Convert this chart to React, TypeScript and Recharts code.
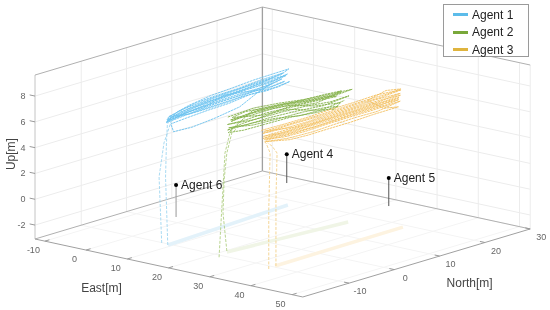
import { Scatter, ScatterChart, XAxis, YAxis } from "recharts";

type P3 = number[];

const eastTicks = [-10, 0, 10, 20, 30, 40, 50];
const northTicks = [-10, 0, 10, 20, 30];
const upTicks = [-2, 0, 2, 4, 6, 8];

const E_MIN = -12.4;
const E_MAX = 52.6;
const N_MIN = -20.2;
const N_MAX = 30;
const U_MIN = -3.08;
const U_MAX = 9.63;

const legendItems = [
  { name: "Agent 1", color: "#5cbcea" },
  { name: "Agent 2", color: "#79a83a" },
  { name: "Agent 3", color: "#dfb43e" },
];

// east, north, up
const agent1Climbs: P3[][] = [
  [[7.8, -10.6, -3], [7.6, -11, 2.15], [7.8, -10.1, 4.7], [8.2, -8.8, 6.34], [8.6, -7.5, 6.5]],
  [[9.6, -10.9, -3], [9.5, -11.3, 2.3], [9.5, -11.1, 4.93], [9.5, -10.9, 6.3], [9, -10, 6.6]],
];
const agent1Flight: P3[] = [
  [8.6, -10, 6.7], [8.2, -5, 7.1], [7.9, 0, 7.3], [7.6, 5, 7.35], [7.5, 10, 7.45], [7.3, 15, 7.45], [7.2, 18, 7.45],
  [7.4, 16, 7.2], [7.6, 10.5, 7.2], [7.8, 5.2, 7.1], [8, 0.3, 7.05], [8.3, -4.8, 6.9], [8.7, -10.3, 6.6],
  [8.4, -6, 6.75], [8.1, -0.5, 6.95], [7.9, 4.6, 7], [7.7, 9.7, 7.05], [7.5, 14.6, 7], [7.3, 17.6, 7.1],
  [7.5, 13.5, 6.85], [7.7, 8.5, 6.9], [7.9, 3.8, 6.85], [8.2, -1, 6.8], [8.4, -5.6, 6.6], [8.8, -10.5, 6.45],
  [8.5, -6.5, 6.6], [8.2, -1.6, 6.7], [8, 3.2, 6.75], [7.8, 8, 6.75], [7.6, 12.6, 6.7], [7.3, 16.4, 6.85],
  [7.5, 11.6, 6.55], [7.8, 6.8, 6.6], [8, 2, 6.6], [8.3, -2.6, 6.55], [8.6, -7, 6.45], [8.9, -10.6, 6.4],
  [8.6, -7.8, 6.95], [8.3, -3.4, 7.15], [8, 1.2, 7.2], [7.8, 6.4, 7.2], [7.6, 11.4, 7.3], [7.4, 16.6, 7.3],
  [7.6, 12, 7.1], [7.8, 7.2, 6.95], [8, 2.6, 6.9], [8.3, -2.2, 6.95], [8.6, -7.2, 6.85], [8.8, -10.2, 6.55],
  [8.5, -5.4, 6.5], [8.2, 0.6, 6.5], [8, 5.8, 6.5], [7.8, 10.8, 6.45], [7.5, 15.4, 6.35], [7.2, 18.2, 6.45],
  [7.4, 13, 6.3], [7.7, 9, 6.45], [8, 4.2, 6.3], [8.3, -0.8, 6.3], [8.6, -5.8, 6.25], [8.9, -9.6, 6.2],
  [8.7, -8.8, 5.5], [8.4, -4.5, 5.37], [8.1, 1, 5.5], [7.9, 6.5, 5.76], [7.6, 11, 6.45], [7.4, 14.2, 6.75],
  [7.6, 10, 6.65], [7.9, 5.4, 6.65], [8.1, 0.8, 6.65], [8.4, -3.8, 6.7], [8.7, -8.4, 6.55],
  [8.4, -4.4, 6.8], [8.1, 0, 6.9], [7.8, 5, 6.95], [7.6, 10.2, 6.95], [7.4, 15.2, 6.9], [7.2, 17.4, 7],
  [7.4, 14, 7.1], [7.7, 9.2, 7.15], [7.9, 3.9, 7.15], [8.2, -1.2, 7.1], [8.5, -6.2, 7], [8.8, -9.9, 6.8],
  [8.4, -5.2, 6.45], [8.1, -0.2, 6.4], [7.8, 4.8, 6.4], [7.6, 9.8, 6.6], [7.5, 13.8, 6.55], [7.3, 17, 6.6],
  [7.5, 12.8, 6.45], [7.8, 7.6, 6.8], [8, 3, 7.05], [8.3, -1.8, 6.6], [8.6, -6.8, 6.7], [8.9, -10.4, 6.55],
];

const agent2Climbs: P3[][] = [
  [[22.6, -11.4, -3], [22.6, -10.75, 1], [22.6, -10.1, 4.94], [22.6, -9, 6.38], [22.4, -8.2, 6.6]],
  [[20.75, -8, -3], [20.75, -8.85, 0.04], [20.75, -8.6, 2.57], [20.75, -8, 4.6], [20.75, -6.9, 6.04], [21, -6, 6.3]],
];
const agent2Flight: P3[] = [
  [21, -8, 7.4], [21.6, -3, 7.6], [22.2, 2, 7.5], [22.8, 7, 7.3], [23.3, 12, 7.2], [23.9, 16.8, 7.15],
  [23.6, 13, 7], [23.1, 8.4, 7.1], [22.4, 3.2, 7.25], [21.8, -2, 7.35], [21.2, -7.6, 7.15],
  [21.6, -3.4, 7.1], [22.2, 1.4, 7.2], [22.8, 6.6, 7.05], [23.3, 11.4, 7], [23.7, 14.6, 7.15],
  [23.2, 9.6, 6.8], [22.6, 4.8, 6.95], [22, -0.6, 7], [21.5, -4.8, 6.85], [21.1, -8.2, 6.85],
  [21.7, -2.6, 6.7], [22.3, 2.8, 6.75], [22.9, 7.6, 6.75], [23.4, 12.4, 6.6], [23.8, 16.2, 6.7],
  [23.3, 11, 6.45], [22.7, 5.6, 6.55], [22, 0.4, 6.55], [21.5, -4.2, 6.45], [21, -7.8, 6.55],
  [21.6, -3, 6.3], [22.2, 1.8, 6.3], [22.8, 6.8, 6.35], [23.3, 11.6, 6.25], [23.6, 14, 6.1],
  [23.2, 9.8, 6.05], [22.6, 4.4, 6.2], [22, -0.8, 6.15], [21.5, -5, 6.1], [21.1, -8, 6.2],
  [21.7, -3.2, 7.45], [22.3, 2.2, 7.4], [22.9, 7.8, 7.2], [23.4, 12.8, 7.1], [23.7, 14.6, 7.25],
  [23.3, 10.6, 7.3], [22.7, 5.2, 7.3], [22.1, 0, 7.4], [21.5, -4.6, 7.5], [21.2, -7.2, 7.3],
  [21.9, -1.4, 6.9], [22.5, 4, 6.85], [23, 8.8, 6.3], [23.5, 13.2, 5.95], [23.7, 14.4, 6.35],
  [23.2, 9.2, 6.6], [22.6, 4.2, 7.15], [22, -0.2, 7.22], [21.5, -4, 7.25], [21.1, -7.4, 7],
  [21.7, -2.2, 7.3], [22.3, 3, 7.32], [22.9, 8, 7.12], [23.3, 11.8, 7.08], [23.6, 13.6, 6.9],
  [23.2, 9, 6.98], [22.6, 3.6, 7.05], [22, -1.2, 6.78], [21.5, -5.2, 6.65], [21, -8.1, 6.4],
  [21.7, -3.6, 6.5], [22.3, 1.2, 6.42], [22.9, 6.2, 6.15], [23.4, 10.8, 6.18], [23.8, 15.2, 6.45],
];

const agent3Climbs: P3[][] = [
  [[35.1, -11.8, -3], [35.1, -11.8, 1.57], [35.1, -11.5, 5.96], [35.1, -12.4, 6.83], [34.9, -12.8, 7]],
  [[34.7, -9.85, -3], [34.7, -9.85, 2.1], [34.7, -9.6, 5.73], [34.7, -10.7, 6.38], [34.5, -11.5, 6.7]],
];
const agent3Flight: P3[] = [
  [34.4, -12.8, 7.8], [34.2, -7, 7.72], [34, -2, 7.68], [34, 3, 7.75], [33.9, 8, 7.74], [33.9, 13, 7.8], [33.8, 18.6, 7.6],
  [33.9, 14, 7.5], [34, 9, 7.55], [34, 4, 7.5], [34.1, -1, 7.5], [34.3, -6, 7.55], [34.5, -12.6, 7.55],
  [34.3, -7.5, 7.4], [34.1, -2.4, 7.35], [34, 2.6, 7.4], [33.9, 7.6, 7.4], [33.9, 12.6, 7.45], [33.8, 18.4, 7.35],
  [33.9, 13.4, 7.2], [34, 8.4, 7.25], [34, 3.4, 7.2], [34.1, -1.6, 7.15], [34.3, -6.6, 7.25], [34.5, -12.4, 7.3],
  [34.3, -8, 7.1], [34.1, -3, 7], [34, 2, 7.05], [33.9, 7, 7.05], [33.9, 12, 7.05], [33.8, 18.2, 7.05],
  [33.9, 13.8, 6.9], [34, 8.8, 6.9], [34, 3.8, 6.85], [34.1, -0.8, 6.8], [34.3, -6.2, 6.9], [34.5, -12.2, 7.05],
  [34.3, -7.8, 6.75], [34.1, -2.8, 6.65], [34, 2.4, 6.7], [33.9, 7.4, 6.7], [33.9, 12.4, 6.7], [33.8, 18.4, 6.75],
  [33.9, 13.2, 6.5], [34, 8.2, 6.55], [34, 3.2, 6.5], [34.1, -1.2, 6.45], [34.3, -6.8, 6.55], [34.5, -12, 6.85],
  [34.3, -6.4, 6.4], [34.1, -2.2, 6.3], [34, 2.2, 6.3], [33.9, 7.2, 6.28], [33.9, 12.2, 6.35], [33.8, 18, 6.35],
  [33.9, 14.6, 6.6], [34, 11, 7.6], [34.1, 15, 7.95], [33.9, 18.4, 7.7],
  [33.9, 15.6, 7.62], [34, 10.6, 7.65], [34, 5.6, 7.62], [34.1, 0.6, 7.6], [34.3, -4.4, 7.62], [34.5, -12.2, 7.68],
  [34.3, -5.6, 7.28], [34.1, -0.6, 7.28], [34, 4.4, 7.3], [33.9, 9.4, 7.32], [33.9, 14.4, 7.3], [33.8, 18.5, 7.2],
  [33.9, 15, 7.12], [34, 10, 7.15], [34, 5, 7.12], [34.1, 0, 7.08], [34.3, -5, 7.15], [34.5, -12.5, 7.15],
  [34.3, -5.8, 6.98], [34.1, -0.4, 6.95], [34, 4.6, 6.97], [33.9, 9.6, 6.98], [33.9, 14.8, 6.95], [33.8, 18.1, 6.9],
  [33.9, 15.2, 6.8], [34, 10.2, 6.82], [34, 5.2, 6.8], [34.1, 0.2, 6.78], [34.3, -4.8, 6.8], [34.5, -12.1, 6.95],
];

const groundTracks: { points: P3[]; color: string }[] = [
  { points: [[9.15, -10.44, U_MIN], [7.2, 17.8, U_MIN]], color: "#e3f2fa" },
  { points: [[20.75, -8, U_MIN], [23.7, 16.1, U_MIN]], color: "#f0f5e6" },
  { points: [[34.1, -9.5, U_MIN], [33.8, 19, U_MIN]], color: "#fdf3e0" },
];

const otherAgents = [
  { name: "Agent 4", east: -3.3, north: 27.1, top: -0.85, stem: "#555555" },
  { name: "Agent 5", east: 21.9, north: 26.7, top: -0.9, stem: "#555555" },
  { name: "Agent 6", east: -2.9, north: 2.3, top: -0.6, stem: "#999999" },
];

const project = ([e, n, u]: P3) => ({
  x: 35 + (e - E_MIN) * 4.12 + (n - N_MIN) * 4.53,
  y: 239 + (e - E_MIN) * 0.892 - (n - N_MIN) * 1.355 - (u - U_MIN) * 12.9,
});

const noDot = () => <g />;

function path(key: string, points: P3[], stroke: string, strokeWidth = 1, dash?: string) {
  return (
    <Scatter
      key={key}
      data={points.map(project)}
      shape={noDot}
      line={{ stroke, strokeWidth, strokeDasharray: dash, fill: "none" }}
      isAnimationActive={false}
    />
  );
}

function label(
  key: string,
  at: P3,
  text: string,
  opts: { dx?: number; dy?: number; size?: number; fill?: string; anchor?: string; dot?: boolean; rotate?: boolean },
) {
  const { dx = 0, dy = 0, size = 9, fill = "#666666", anchor = "middle", dot = false, rotate = false } = opts;
  const draw = (p: any) => {
    const tx = p.cx + dx;
    const ty = p.cy + dy;
    return (
      <g>
        {dot && <circle cx={p.cx} cy={p.cy} r={2} fill="#000" />}
        <text
          x={tx}
          y={ty}
          fontSize={size}
          fill={fill}
          textAnchor={anchor as any}
          dominantBaseline="central"
          fontFamily="'Liberation Sans', Arial, sans-serif"
          transform={rotate ? `rotate(-90 ${tx} ${ty})` : undefined}
        >
          {text}
        </text>
      </g>
    );
  };
  return <Scatter key={key} data={[project(at)]} shape={draw} isAnimationActive={false} />;
}

const GRID = "#ececec";
const FLOOR = "#f4f4f4";
const EDGE = "#b0b0b0";

export default function App() {
  return (
    <div style={{ position: "absolute", left: 0, top: 0, width: 550, height: 310, filter: "blur(0.5px)" }}>
      <ScatterChart width={550} height={310} margin={{ top: 0, right: 0, bottom: 0, left: 0 }}>
        <XAxis type="number" dataKey="x" domain={[0, 550]} hide />
        <YAxis type="number" dataKey="y" domain={[0, 310]} reversed hide />

        {eastTicks.map((e) => path(`ef${e}`, [[e, N_MIN, U_MIN], [e, N_MAX, U_MIN]], FLOOR))}
        {northTicks.map((n) => path(`nf${n}`, [[E_MIN, n, U_MIN], [E_MAX, n, U_MIN]], FLOOR))}
        {eastTicks.map((e) => path(`ew${e}`, [[e, N_MAX, U_MIN], [e, N_MAX, U_MAX]], GRID))}
        {northTicks.map((n) => path(`nw${n}`, [[E_MIN, n, U_MIN], [E_MIN, n, U_MAX]], GRID))}
        {upTicks.map((u) => path(`uw${u}`, [[E_MIN, N_MIN, u], [E_MIN, N_MAX, u], [E_MAX, N_MAX, u]], GRID))}

        {path("left", [[E_MIN, N_MIN, U_MIN], [E_MIN, N_MIN, U_MAX]], "#c4c4c4")}
        {path("back", [[E_MIN, N_MAX, U_MIN], [E_MIN, N_MAX, U_MAX]], "#a0a0a0", 1.3)}
        {path("right", [[E_MAX, N_MAX, U_MIN], [E_MAX, N_MAX, U_MAX]], "#ececec")}
        {path("topEdge", [[E_MIN, N_MIN, U_MAX], [E_MIN, N_MAX, U_MAX], [E_MAX, N_MAX, U_MAX]], EDGE)}
        {path("backFloor", [[E_MIN, N_MIN, U_MIN], [E_MIN, N_MAX, U_MIN], [E_MAX, N_MAX, U_MIN]], EDGE)}
        {path("frontFloor", [[E_MIN, N_MIN, U_MIN], [E_MAX, N_MIN, U_MIN], [E_MAX, N_MAX, U_MIN]], "#a0a0a0")}

        {eastTicks.map((e) => path(`et${e}`, [[e, N_MIN, U_MIN], [e, N_MIN + 1, U_MIN]], "#999999"))}
        {northTicks.map((n) => path(`nt${n}`, [[E_MAX, n, U_MIN], [E_MAX - 1.2, n, U_MIN]], "#999999"))}
        {upTicks.map((u) => path(`ut${u}`, [[E_MIN, N_MIN, u], [E_MIN - 1.3, N_MIN, u]], "#999999"))}

        {groundTracks.map((t, i) => path(`g${i}`, t.points, t.color, 3.5))}

        {otherAgents.map((a) => path(`s${a.name}`, [[a.east, a.north, U_MIN], [a.east, a.north, a.top]], a.stem))}

        {agent1Climbs.map((c, i) => path(`c1${i}`, c, "#9fd6f1", 0.9, "3 1.5"))}
        {agent2Climbs.map((c, i) => path(`c2${i}`, c, "#b1cf85", 0.9, "3 1.5"))}
        {agent3Climbs.map((c, i) => path(`c3${i}`, c, "#f3d08a", 0.9, "3 1.5"))}
        {path("f1", agent1Flight, "#6cc3ef", 0.9, "2.5 0.6")}
        {path("f2", agent2Flight, "#86b24c", 0.9, "2.5 0.6")}
        {path("f3", agent3Flight, "#f3c060", 0.9, "2.5 0.6")}

        {eastTicks.map((e) => label(`el${e}`, [e, N_MIN, U_MIN], String(e), { dx: -11.5, dy: 9 }))}
        {northTicks.map((n) => label(`nl${n}`, [E_MAX, n, U_MIN], String(n), { dx: 11, dy: 8 }))}
        {upTicks.map((u) => label(`ul${u}`, [E_MIN, N_MIN, u], String(u), { dx: -9.5, anchor: "end" }))}

        {label("eastTitle", [20, N_MIN, U_MIN], "East[m]", { dx: -67, dy: 20, size: 12, fill: "#444444" })}
        {label("northTitle", [E_MAX, 10, U_MIN], "North[m]", { dx: 30, dy: 27, size: 12, fill: "#444444" })}
        {label("upTitle", [E_MIN, N_MIN, 3.5], "Up[m]", { dx: -24, dy: 0, size: 12, fill: "#444444", rotate: true })}

        {otherAgents.map((a) =>
          label(`a${a.name}`, [a.east, a.north, a.top], a.name, {
            dx: 5,
            dy: 0,
            size: 12,
            fill: "#222222",
            anchor: "start",
            dot: true,
          }),
        )}
      </ScatterChart>

      <div
        style={{
          position: "absolute",
          left: 443,
          top: 4,
          width: 84,
          height: 51,
          background: "#fff",
          border: "1.5px solid #9a9a9a",
          fontFamily: "'Liberation Sans', Arial, sans-serif",
          fontSize: 12,
          color: "#222",
        }}
      >
        {legendItems.map((item, i) => (
          <div key={item.name} style={{ position: "absolute", left: 9, top: 1 + i * 17.5, height: 17, display: "flex", alignItems: "center" }}>
            <span style={{ display: "inline-block", width: 15, height: 3, background: item.color, marginRight: 4 }} />
            {item.name}
          </div>
        ))}
      </div>
    </div>
  );
}
